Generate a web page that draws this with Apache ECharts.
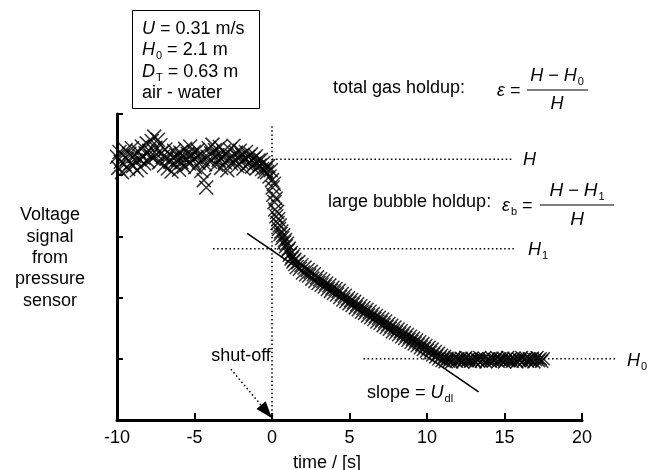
<!DOCTYPE html>
<html><head><meta charset="utf-8">
<script src="https://cdn.jsdelivr.net/npm/echarts@6/dist/echarts.min.js"></script>
<style>html,body{margin:0;padding:0;background:#fff}#c{width:658px;height:470px}</style>
</head><body><div id="c"></div>
<script>
// ---------- data (time in s, voltage signal in arbitrary units) ----------
const xTickValues = [-10, -5, 0, 5, 10, 15, 20];
const yTickValues = [1, 2, 3, 4, 5];

const preShutoff = [
[-10.00,4.30],[-9.92,4.12],[-9.84,4.38],[-9.76,4.22],[-9.68,4.05],[-9.60,4.33],[-9.52,4.18],[-9.44,4.41],
[-9.36,4.27],[-9.28,4.10],[-9.20,4.35],[-9.12,4.20],[-9.04,4.44],[-8.96,4.15],[-8.88,4.31],[-8.80,4.24],
[-8.72,4.08],[-8.64,4.39],[-8.56,4.26],[-8.48,4.13],[-8.40,4.47],[-8.32,4.29],[-8.24,4.19],[-8.16,4.36],
[-8.08,4.52],[-8.00,4.23],[-7.92,4.40],[-7.84,4.31],[-7.76,4.56],[-7.68,4.28],[-7.60,4.63],[-7.52,4.45],
[-7.44,4.34],[-7.36,4.58],[-7.28,4.21],[-7.20,4.49],[-7.12,4.37],[-7.04,4.30],[-6.96,4.16],[-6.88,4.42],
[-6.80,4.27],[-6.72,4.11],[-6.64,4.35],[-6.56,4.22],[-6.48,4.06],[-6.40,4.29],[-6.32,4.40],[-6.24,4.18],
[-6.16,4.33],[-6.08,4.25],[-6.00,4.09],[-5.92,4.37],[-5.84,4.21],[-5.76,4.30],[-5.68,4.14],[-5.60,4.43],
[-5.52,4.26],[-5.44,4.35],[-5.36,4.19],[-5.28,4.47],[-5.20,4.32],[-5.12,4.24],[-5.04,4.38],[-4.96,4.13],
[-4.88,4.29],[-4.80,4.41],[-4.72,4.20],[-4.64,4.34],[-4.56,4.07],[-4.48,4.26],[-4.40,3.92],[-4.32,4.18],
[-4.24,3.80],[-4.16,4.30],[-4.08,4.44],[-4.00,4.22],[-3.92,4.36],[-3.84,4.50],[-3.76,4.28],[-3.68,4.41],
[-3.60,4.17],[-3.52,4.33],[-3.44,4.25],[-3.36,4.46],[-3.28,4.12],[-3.20,4.30],[-3.12,4.39],[-3.04,4.21],
[-2.96,4.34],[-2.88,4.08],[-2.80,4.27],[-2.72,4.42],[-2.64,4.19],[-2.56,4.31],[-2.48,4.48],[-2.40,4.24],
[-2.32,4.37],[-2.24,4.15],[-2.16,4.29],[-2.08,4.40],[-2.00,4.22],[-1.92,4.33],[-1.84,4.11],[-1.76,4.26],
[-1.68,4.38],[-1.60,4.18],[-1.52,4.30],[-1.44,4.21],[-1.36,4.34],[-1.28,4.14],[-1.20,4.27],[-1.12,4.19],
[-1.04,4.31],[-0.96,4.12],[-0.88,4.24],[-0.80,4.16],[-0.72,4.25],[-0.64,4.10],[-0.56,4.20],[-0.48,4.06],
[-0.40,4.12],[-0.32,4.05],[-0.24,4.15],[-0.16,3.98],[-0.08,4.08]
];

const drainage = [
[0.00,3.92],[0.04,3.80],[0.08,3.68],[0.12,3.86],[0.16,3.56],[0.20,3.44],[0.24,3.62],[0.28,3.33],
[0.32,3.40],[0.36,3.22],[0.40,3.28],[0.45,3.12],[0.50,3.18],[0.55,3.04],[0.60,3.08],[0.66,2.97],
[0.72,3.02],[0.78,2.90],[0.84,2.94],[0.90,2.84],[0.96,2.88],[1.02,2.77],[1.08,2.80],[1.14,2.70],
[1.20,2.73],[1.26,2.64],[1.32,2.67],[1.38,2.59],[1.44,2.62],[1.50,2.55],
[1.6,2.50],[1.7,2.58],[1.8,2.47],[1.9,2.53],[2.0,2.41],[2.1,2.49],[2.2,2.38],[2.3,2.45],[2.4,2.36],
[2.5,2.42],[2.6,2.31],[2.7,2.38],[2.8,2.27],[2.9,2.33],[3.0,2.24],[3.1,2.30],[3.2,2.21],[3.3,2.27],
[3.4,2.18],[3.5,2.23],[3.6,2.14],[3.7,2.20],[3.8,2.11],[3.9,2.16],[4.0,2.08],[4.1,2.14],[4.2,2.05],
[4.3,2.11],[4.4,2.01],[4.5,2.06],[4.6,1.97],[4.7,2.03],[4.8,1.94],[4.9,1.99],[5.0,1.91],[5.1,1.96],
[5.2,1.88],[5.3,1.93],[5.4,1.84],[5.5,1.89],[5.6,1.81],[5.7,1.86],[5.8,1.77],[5.9,1.83],[6.0,1.75],
[6.1,1.80],[6.2,1.71],[6.3,1.77],[6.4,1.68],[6.5,1.73],[6.6,1.65],[6.7,1.70],[6.8,1.61],[6.9,1.67],
[7.0,1.59],[7.1,1.64],[7.2,1.55],[7.3,1.61],[7.4,1.52],[7.5,1.57],[7.6,1.49],[7.7,1.54],[7.8,1.45],
[7.9,1.51],[8.0,1.43],[8.1,1.48],[8.2,1.40],[8.3,1.45],[8.4,1.37],[8.5,1.42],[8.6,1.34],[8.7,1.39],
[8.8,1.31],[8.9,1.36],[9.0,1.28],[9.1,1.33],[9.2,1.25],[9.3,1.30],[9.4,1.22],[9.5,1.27],[9.6,1.19],
[9.7,1.24],[9.8,1.16],[9.9,1.21],[10.0,1.13],[10.1,1.18],[10.2,1.10],[10.3,1.15],[10.4,1.07],[10.5,1.11],
[10.6,1.04],[10.7,1.08],[10.8,1.01],[10.9,1.05],[11.0,0.98],[11.1,1.03],[11.2,0.96]
];

const settled = [
[11.3,1.01],[11.4,0.96],[11.5,1.00],[11.6,0.95],[11.7,0.99],[11.8,1.02],[11.9,0.96],[12.0,1.00],
[12.1,0.97],[12.2,1.01],[12.3,0.95],[12.4,0.99],[12.5,1.02],[12.6,0.97],[12.7,1.00],[12.8,0.96],
[12.9,1.01],[13.0,0.98],[13.1,0.95],[13.2,1.00],[13.3,0.97],[13.4,1.02],[13.5,0.96],[13.6,0.99],
[13.7,1.01],[13.8,0.95],[13.9,0.98],[14.0,1.00],[14.1,0.96],[14.2,1.01],[14.3,0.97],[14.4,0.99],
[14.5,1.02],[14.6,0.96],[14.7,1.00],[14.8,0.97],[14.9,1.01],[15.0,0.95],[15.1,0.99],[15.2,1.02],
[15.3,0.97],[15.4,1.00],[15.5,0.96],[15.6,1.01],[15.7,0.98],[15.8,0.95],[15.9,1.00],[16.0,0.97],
[16.1,1.02],[16.2,0.96],[16.3,0.99],[16.4,1.01],[16.5,0.96],[16.6,1.00],[16.7,0.97],[16.8,1.01],
[16.9,0.95],[17.0,0.99],[17.1,1.02],[17.2,0.97],[17.3,1.00],[17.4,0.96],[17.5,1.00]
];

// reference levels and annotation geometry (data units)
const levelH = 4.26, levelH1 = 2.80, levelH0 = 1.00;
const lineH  = [[0, levelH],  [15.6, levelH]];
const lineH1 = [[-3.8, levelH1], [15.6, levelH1]];
const lineH0 = [[5.9, levelH0], [22.3, levelH0]];
const lineShutoff = [[0, 4.8], [0, 0]];
const slopeLine = [[-1.6, 3.05], [13.33, 0.46]];
const shutoffArrow = [[-2.65, 0.83], [0, 0.03]];

// ---------- chart ----------
const FONT = '"Liberation Sans", Arial, Helvetica, sans-serif';
const INK = '#000';
const cross = 'path://M0,0L10,10M0,10L10,0';
const markStyle = { color: 'rgba(0,0,0,0)', borderColor: INK, borderWidth: 1.5 };

const chart = echarts.init(document.getElementById('c'), null, { renderer: 'canvas' });
const scatterSeries = (name, data, size) => ({
  name, type: 'scatter', data, symbol: cross, symbolSize: size,
  itemStyle: markStyle, silent: true, clip: false
});

chart.setOption({
  animation: false,
  backgroundColor: '#fff',
  grid: { left: 117, right: 76, top: 114, bottom: 50 },
  xAxis: {
    type: 'value', min: -10, max: 20, interval: 5,
    axisLine: { onZero: false, lineStyle: { color: INK, width: 3 } },
    axisTick: { inside: true, length: 7, lineStyle: { color: INK, width: 2 }, customValues: xTickValues },
    axisLabel: { color: INK, fontSize: 18, fontFamily: FONT, margin: 9, customValues: xTickValues },
    splitLine: { show: false }
  },
  yAxis: {
    type: 'value', min: 0, max: 5, interval: 1,
    axisLine: { show: true, onZero: false, lineStyle: { color: INK, width: 3 } },
    axisTick: { show: true, inside: true, length: 6, lineStyle: { color: INK, width: 2 }, customValues: yTickValues },
    axisLabel: { show: false },
    splitLine: { show: false }
  },
  series: [
    scatterSeries('before shut-off', preShutoff, 14),
    scatterSeries('drainage', drainage, 14),
    scatterSeries('settled', settled, 13)
  ]
});

const P = (d) => chart.convertToPixel({ gridIndex: 0 }, d);
const dotted = { stroke: INK, lineWidth: 1.5, lineDash: [1.5, 2.6] };
function seg(pts, style) {
  const a = P(pts[0]), b = P(pts[1]);
  return { type: 'line', silent: true, shape: { x1: a[0], y1: a[1], x2: b[0], y2: b[1] }, style };
}
const rich = {
  i: { fontStyle: 'italic', fontSize: 18, fontFamily: FONT, fill: INK },
  ib: { fontStyle: 'italic', fontSize: 19, fontFamily: FONT, fill: INK },
  s: { fontSize: 11, fontFamily: FONT, fill: INK, padding: [12, 0, 0, 1] },
  n: { fontSize: 18, fontFamily: FONT, fill: INK }
};
function txt(text, x, y, opts) {
  return {
    type: 'text', silent: true, z: 50,
    style: Object.assign({ text, x, y, fontSize: 18, fontFamily: FONT, fill: INK,
      align: 'left', verticalAlign: 'middle', rich }, opts || {})
  };
}

// arrow
const aS = P(shutoffArrow[0]), aT = P(shutoffArrow[1]);
const dx = aT[0] - aS[0], dy = aT[1] - aS[1], L = Math.hypot(dx, dy);
const ux = dx / L, uy = dy / L, headL = 17, headW = 6;
const bx = aT[0] - ux * headL, by = aT[1] - uy * headL;

const graphics = [
  seg(lineShutoff, dotted),
  seg(lineH, dotted),
  seg(lineH1, dotted),
  seg(lineH0, dotted),
  seg(slopeLine, { stroke: INK, lineWidth: 1.6 }),
  { type: 'line', silent: true, shape: { x1: aS[0], y1: aS[1], x2: bx, y2: by }, style: dotted },
  { type: 'polygon', silent: true, shape: { points: [[aT[0], aT[1]], [bx - uy * headW, by + ux * headW], [bx + uy * headW, by - ux * headW]] }, style: { fill: INK } },

  // parameter box
  { type: 'rect', silent: true, shape: { x: 132.5, y: 10.5, width: 127, height: 98 }, style: { fill: 'none', stroke: INK, lineWidth: 1 } },
  txt('{i|U} = 0.31 m/s', 142, 29),
  txt('{i|H}{s|0} = 2.1 m', 142, 50),
  txt('{i|D}{s|T} = 0.63 m', 142, 72),
  txt('air - water', 142, 93),

  // total gas holdup
  txt('total gas holdup:', 333, 88),
  txt('{i|ε} =', 497, 91),
  txt('{i|H} − {i|H}{s|0}', 557, 76, { align: 'center' }),
  { type: 'line', silent: true, shape: { x1: 527, y1: 90, x2: 588, y2: 90 }, style: { stroke: INK, lineWidth: 1.2 } },
  txt('{i|H}', 557, 104, { align: 'center' }),

  // large bubble holdup
  txt('large bubble holdup:', 328, 202),
  txt('{i|ε}{s|b} =', 502, 206),
  txt('{ib|H} − {ib|H}{s|1}', 577, 191, { align: 'center' }),
  { type: 'line', silent: true, shape: { x1: 540, y1: 205, x2: 614, y2: 205 }, style: { stroke: INK, lineWidth: 1.2 } },
  txt('{ib|H}', 577, 220, { align: 'center' }),

  // level labels
  txt('{i|H}', 523, P(lineH[1])[1] + 1),
  txt('{i|H}{s|1}', 528, P(lineH1[1])[1] + 1),
  txt('{i|H}{s|0}', 627, P(lineH0[1])[1] + 2),

  txt('slope = {i|U}{s|dl}', 367, 393),
  txt('shut-off', 241, 356, { align: 'center' }),

  // axis titles
  txt('Voltage\nsignal\nfrom\npressure\nsensor', 50, 258, { align: 'center', lineHeight: 21.3 }),
  txt('time / [s]', 327, 463, { align: 'center' })
];

chart.setOption({ graphic: graphics });
</script></body></html>
